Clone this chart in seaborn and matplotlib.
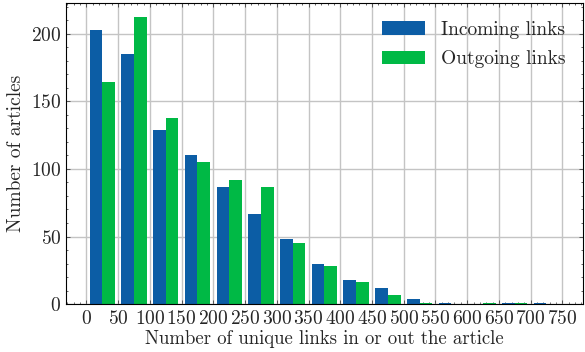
import numpy as np
import pandas as pd
import matplotlib
matplotlib.use("Agg")
import matplotlib.pyplot as plt
import seaborn as sns

# bin edges of the histogram (width 50)
bin_edges = [0, 50, 100, 150, 200, 250, 300, 350, 400, 450, 500, 550, 600, 650, 700, 750]
# counts
incoming = [203, 185, 129, 110, 87, 67, 48, 30, 18, 12, 4, 1, 0, 1, 1]
outgoing = [164, 212, 138, 105, 92, 87, 45, 28, 16, 7, 1, 0, 1, 1, 0]
series_names = ["Incoming links", "Outgoing links"]
tick_values = [0, 50, 100, 150, 200, 250, 300, 350, 400, 450, 500, 550, 600, 650, 700, 750]

# must precede the plotting
sns.set_theme(style="ticks")
plt.rcParams.update({
    "font.family": "serif",
    "font.serif": ["cmr10"],
    "mathtext.fontset": "cm",
    "axes.formatter.use_mathtext": True,
    "axes.unicode_minus": False,
    "font.size": 14,
    "axes.labelsize": 14,
    "xtick.labelsize": 14,
    "ytick.labelsize": 14,
    "legend.fontsize": 14,
    "xtick.direction": "in",
    "ytick.direction": "in",
    "xtick.top": True,
    "ytick.right": True,
    "xtick.minor.visible": True,
    "ytick.minor.visible": True,
    "xtick.major.size": 3,
    "ytick.major.size": 3,
    "xtick.minor.size": 1.5,
    "ytick.minor.size": 1.5,
    "xtick.major.width": 0.5,
    "ytick.major.width": 0.5,
    "xtick.minor.width": 0.5,
    "ytick.minor.width": 0.5,
    "axes.linewidth": 0.8,
    "axes.edgecolor": "black",
    "axes.grid": True,
    "grid.color": "#c4c4c4",
    "grid.linewidth": 1.0,
    "grid.alpha": 1.0,
    "patch.force_edgecolor": False,
})

data = pd.DataFrame({"left": bin_edges[:-1], "incoming": incoming, "outgoing": outgoing})
centers = data["left"] + 25

fig, ax = plt.subplots(figsize=(5.85, 3.52), dpi=100)
ax.hist([centers, centers], bins=bin_edges,
        weights=[data["incoming"], data["outgoing"]],
        color=["#0C5DA5", "#00B945"], label=series_names,
        edgecolor="none", linewidth=0)

ax.set_xticks(tick_values)
ax.set_xlabel("Number of unique links in or out the article", labelpad=2, fontsize=13.5)
ax.set_ylabel("Number of articles", labelpad=4)
ax.tick_params(axis="x", pad=4)
ax.legend(frameon=False, loc="upper right", handlelength=2.2, labelspacing=0.6)
ax.set_axisbelow(True)

fig.subplots_adjust(left=0.113, right=0.996, top=0.991, bottom=0.136)
fig.savefig("out.png", dpi=100)
